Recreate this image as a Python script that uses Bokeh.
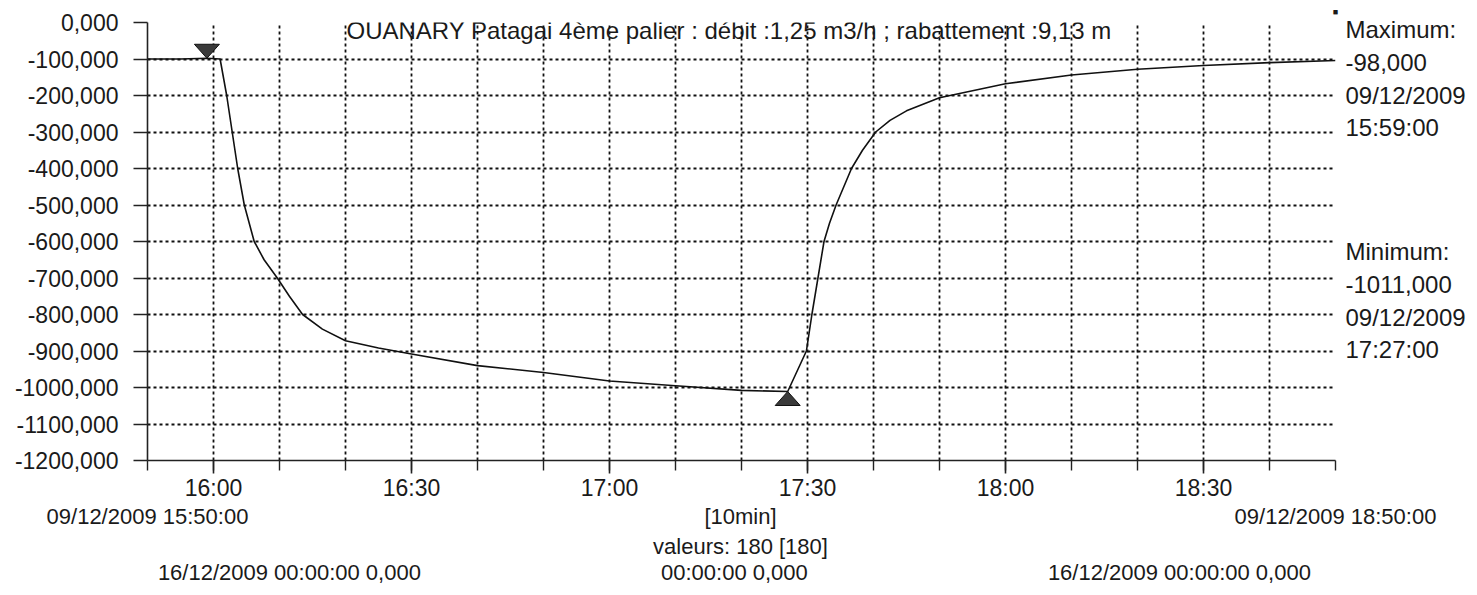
import pandas as pd
from bokeh.plotting import figure
from bokeh.models import (FixedTicker, Label, ColumnDataSource, Range1d, DatetimeTickFormatter,
                          LinearAxis)
from bokeh.embed import file_html
from bokeh.resources import INLINE

# ---------------- data ----------------
day = "2009-12-09"
times = ["15:50:00", "15:55:00", "15:59:00", "16:01:00", "16:02:00", "16:02:50",
         "16:03:40", "16:04:40", "16:06:10", "16:07:40", "16:09:40", "16:11:30",
         "16:13:30", "16:16:30", "16:20:00", "16:25:00", "16:30:00", "16:40:00",
         "16:50:00", "17:00:00", "17:10:00", "17:20:00", "17:27:00", "17:29:50",
         "17:30:40", "17:31:35", "17:32:30", "17:33:20", "17:34:20", "17:36:40",
         "17:38:20", "17:40:20", "17:42:30", "17:45:00", "17:50:00", "18:00:00",
         "18:10:00", "18:20:00", "18:30:00", "18:40:00", "18:50:00"]
values = [-100, -100, -98, -100, -200, -300,
          -400, -500, -600, -650, -700, -750,
          -800, -840, -872, -892, -908, -940,
          -959, -982, -995, -1008, -1011, -900,
          -800, -700, -600, -550, -500, -400,
          -350, -300, -268, -242, -206, -168,
          -144, -128, -118, -110, -104]

max_time, max_value = "15:59:00", -98
min_time, min_value = "17:27:00", -1011

y_ticks = [0, -100, -200, -300, -400, -500, -600, -700, -800, -900, -1000, -1100, -1200]
y_tick_labels = ["0,000", "-100,000", "-200,000", "-300,000", "-400,000", "-500,000",
                 "-600,000", "-700,000", "-800,000", "-900,000", "-1000,000",
                 "-1100,000", "-1200,000"]
x_major = ["16:00", "16:30", "17:00", "17:30", "18:00", "18:30"]
x_minor = ["15:50", "16:00", "16:10", "16:20", "16:30", "16:40", "16:50", "17:00",
           "17:10", "17:20", "17:30", "17:40", "17:50", "18:00", "18:10", "18:20",
           "18:30", "18:40", "18:50"]
x_start, x_end = "15:50", "18:50"

title_text = "OUANARY  Patagai  4ème palier : débit :1,25 m3/h ; rabattement :9,13 m"
max_lines = ["Maximum:", "-98,000", "09/12/2009", "15:59:00"]
min_lines = ["Minimum:", "-1011,000", "09/12/2009", "17:27:00"]
row_a = ["09/12/2009 15:50:00", "[10min]", "09/12/2009 18:50:00"]
row_b = ["valeurs: 180 [180]"]
row_c = ["16/12/2009 00:00:00   0,000", "00:00:00   0,000", "16/12/2009 00:00:00   0,000"]


def ms(t):
    return pd.Timestamp(f"{day} {t}").value // 10**6


# ---------------- layout ----------------
W, H = 1469, 587
FL, FT, FW, FH = 147, 22, 1188, 438      # frame position in pixels
FONT = "Liberation Sans"
TXT = "#1a1a1a"

x0, x1 = ms(x_start), ms(x_end)
y0, y1 = y_ticks[-1], y_ticks[0]


def xd(px):
    return x0 + (px - FL) / FW * (x1 - x0)


def yd(py):
    return y1 - (py - FT) / FH * (y1 - y0)


def xmin(px):  # position in minutes from start, for text-holder axes
    return (px - FL) / FW * 180


ms_per_px = (x1 - x0) / FW
u_per_px = (y1 - y0) / FH

p = figure(width=W, height=H, x_axis_type="datetime",
           x_range=Range1d(x0, x1), y_range=Range1d(y0, y1),
           output_backend="svg", toolbar_location=None,
           min_border_left=FL, min_border_top=FT,
           min_border_right=W - FL - FW, min_border_bottom=H - FT - FH)
p.outline_line_color = None
p.background_fill_color = "white"
p.border_fill_color = "white"
p.extra_x_ranges = {"mins": Range1d(0, 180)}

src = ColumnDataSource(dict(t=pd.to_datetime([f"{day} {t}" for t in times]), v=values))
p.line("t", "v", source=src, line_color="#111111", line_width=1.6)

# min / max markers
mx, mn = ms(max_time), ms(min_time)
hw, th = 12.5 * ms_per_px, 14 * u_per_px
p.patches(xs=[[mx - hw, mx + hw, mx], [mn - hw, mn + hw, mn]],
          ys=[[max_value + th, max_value + th, max_value],
              [min_value - th, min_value - th, min_value]],
          fill_color="#3a3a3a", line_color="#111111", line_width=1)

# axes
p.xaxis.ticker = FixedTicker(ticks=[ms(t) for t in x_major], minor_ticks=[ms(t) for t in x_minor])
p.xaxis.formatter = DatetimeTickFormatter(minutes="%H:%M", hourmin="%H:%M", hours="%H:%M",
                                          minsec="%H:%M", seconds="%H:%M")
p.yaxis.ticker = FixedTicker(ticks=y_ticks)
p.yaxis.major_label_overrides = {v: s for v, s in zip(y_ticks, y_tick_labels)}

for ax in (p.xaxis[0], p.yaxis[0]):
    ax.axis_line_color = "#222222"
    ax.axis_line_width = 1.6
    ax.major_tick_line_color = "#222222"
    ax.major_tick_line_width = 1.6
    ax.minor_tick_line_color = "#222222"
    ax.minor_tick_line_width = 1.4
    ax.major_tick_in = 0
    ax.minor_tick_in = 0
    ax.major_label_text_font = FONT
    ax.major_label_text_font_size = "23px"
    ax.major_label_text_color = TXT

p.yaxis.major_tick_out = 14
p.yaxis.minor_tick_line_color = None
p.yaxis.major_label_standoff = 15
p.xaxis.major_tick_out = 13
p.xaxis.minor_tick_out = 10
p.xaxis.major_label_standoff = 1

# grid
p.xgrid.ticker = FixedTicker(ticks=[ms(t) for t in x_minor[1:]])
p.ygrid.ticker = FixedTicker(ticks=y_ticks[:-1])
for g in (p.xgrid[0], p.ygrid[0]):
    g.grid_line_color = "#111111"
    g.grid_line_dash = "3 3"
    g.grid_line_width = 1.8


def text_axis(ticks, labels, side, size, standoff, range_name=None):
    kw = dict(x_range_name=range_name) if range_name else {}
    ax = LinearAxis(ticker=FixedTicker(ticks=ticks),
                    major_label_overrides={t: s for t, s in zip(ticks, labels)},
                    axis_line_color=None, major_tick_line_color=None,
                    minor_tick_line_color=None, major_tick_out=0, major_tick_in=0,
                    major_label_standoff=standoff, major_label_text_font=FONT,
                    major_label_text_font_size=size, major_label_text_color=TXT, **kw)
    p.add_layout(ax, side)


# bottom information rows
text_axis([xmin(147), xmin(740), xmin(1335)], row_a, "below", "22px", 0, "mins")
text_axis([xmin(740)], row_b, "below", "22px", 2, "mins")
text_axis([xmin(295), xmin(740), xmin(1185)], row_c, "below", "22px", -2, "mins")

# right information panel
r_pos = [29, 62, 95, 127, 251, 284, 317, 349]
text_axis([yd(v) for v in r_pos], max_lines + min_lines, "right", "24px", 10)

# small marker at the top-right corner
text_axis([180], ["■"], "above", "9px", 6, "mins")

# title inside the plot area
p.add_layout(Label(x=xd(346), y=yd(30), text=title_text, text_font=FONT,
                   text_font_size="24px", text_align="left",
                   text_baseline="middle", text_color=TXT))

open("out.html", "w").write(file_html(p, INLINE))
